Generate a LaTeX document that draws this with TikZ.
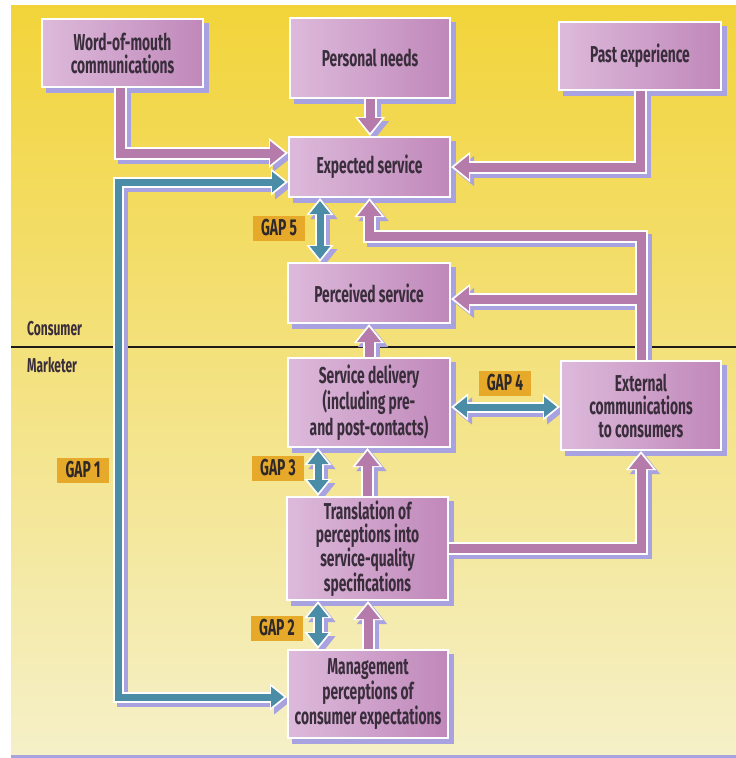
\documentclass[tikz,border=0pt]{standalone}
\usepackage{fontspec}
\setmainfont{Fira Sans}[FakeStretch=0.6]
\usetikzlibrary{arrows.meta,calc}
\definecolor{bgT}{HTML}{F2D43A}
\definecolor{bgM}{HTML}{F1E48C}
\definecolor{bgB}{HTML}{F5F0C8}
\definecolor{shadc}{HTML}{A9A2E0}
\definecolor{purc}{HTML}{B57BAA}
\definecolor{bluc}{HTML}{4B8CA6}
\definecolor{boxL}{HTML}{DDBADB}
\definecolor{boxR}{HTML}{C088BA}
\definecolor{txt}{HTML}{3A2E3C}
\definecolor{gapc}{HTML}{E6A92A}
\definecolor{gtxt}{HTML}{2E2828}
\definecolor{linec}{HTML}{1E1A1A}
\pgfdeclarelayer{bg}\pgfdeclarelayer{shad}\pgfdeclarelayer{arrw}\pgfdeclarelayer{arrc}
\pgfsetlayers{bg,shad,arrw,arrc,main}
\newcommand\bfnt{\fontsize{23bp}{23bp}\selectfont\bfseries}
\newcommand\lfnt{\fontsize{20bp}{22bp}\selectfont\bfseries}
\tikzset{
 box/.style={rectangle, draw=white, line width=2bp, left color=boxL, right color=boxR, text=txt, align=center, inner sep=0pt, font=\bfnt},
 gap/.style={rectangle, fill=gapc, text=gtxt, inner sep=0pt, minimum width=52bp, minimum height=25bp, font=\bfnt},
 lab/.style={text=txt, inner sep=0pt, font=\lfnt},
 pw/.style={draw=white, line width=13bp, -{Triangle[length=19bp,width=29bp]}},
 ps/.style={draw=shadc, line width=13bp, -{Triangle[length=19bp,width=29bp]}, transform canvas={shift={(4bp,-4bp)}}},
 pc/.style={draw=purc, line width=9bp, -{Triangle[length=15bp,width=23bp]}, shorten >=3bp},
 bw/.style={draw=white, line width=11bp, {Triangle[length=17bp,width=26bp]}-{Triangle[length=17bp,width=26bp]}},
 bs/.style={draw=shadc, line width=11bp, {Triangle[length=17bp,width=26bp]}-{Triangle[length=17bp,width=26bp]}, transform canvas={shift={(4bp,-4bp)}}},
 bc/.style={draw=bluc, line width=7bp, {Triangle[length=13bp,width=20bp]}-{Triangle[length=13bp,width=20bp]}, shorten >=3bp, shorten <=3bp}
}
\newcommand\parrow[1]{%
 \begin{pgfonlayer}{shad}\path[ps] #1;\end{pgfonlayer}
 \begin{pgfonlayer}{arrw}\path[pw] #1;\end{pgfonlayer}
 \begin{pgfonlayer}{arrc}\path[pc] #1;\end{pgfonlayer}}
\newcommand\barrow[1]{%
 \begin{pgfonlayer}{shad}\path[bs] #1;\end{pgfonlayer}
 \begin{pgfonlayer}{arrw}\path[bw] #1;\end{pgfonlayer}
 \begin{pgfonlayer}{arrc}\path[bc] #1;\end{pgfonlayer}}
\newcommand\bshadow[1]{\begin{pgfonlayer}{shad}\fill[shadc] ($(#1.north west)+(5bp,-5bp)$) rectangle ($(#1.south east)+(5bp,-5bp)$);\end{pgfonlayer}}
\begin{document}
\begin{tikzpicture}[x=1bp,y=-1bp,line join=miter]
\useasboundingbox (0,0) rectangle (736,758);
\begin{pgfonlayer}{bg}
 \fill[white] (0,0) rectangle (736,758);
 \shade[top color=bgT, middle color=bgM, bottom color=bgB] (11,6) rectangle (736,755);
 \fill[shadc] (11,755) rectangle (736,758);
 \draw[line width=1.8bp, linec] (11,347) -- (736,347);
\end{pgfonlayer}
% boxes
\node[box, minimum width=161bp, minimum height=68bp] (wom) at (122.5,53) {Word-of-mouth\\communications};
\node[box, minimum width=160bp, minimum height=80bp] (pn) at (370,58) {Personal needs};
\node[box, minimum width=162bp, minimum height=68bp] (pe) at (640,56) {Past experience};
\node[box, minimum width=161bp, minimum height=60bp] (exp) at (369.5,167) {Expected service};
\node[box, minimum width=162bp, minimum height=60bp] (per) at (369,293) {Perceived service};
\node[box, minimum width=162bp, minimum height=89bp] (sd) at (369,402.5) {Service delivery\\(including pre-\\and post-contacts)};
\node[box, minimum width=160bp, minimum height=89bp] (ext) at (641,405.5) {External\\communications\\to consumers};
\node[box, minimum width=161bp, minimum height=103bp] (tr) at (367.5,548.5) {Translation of\\perceptions into\\service-quality\\specifications};
\node[box, minimum width=160bp, minimum height=88bp] (mg) at (368,694) {Management\\perceptions of\\consumer expectations};
\foreach \b in {wom,pn,pe,exp,per,sd,ext,tr,mg}{\bshadow{\b}}
% side labels
\node[lab, anchor=base west] (cons) at (27,335) {Consumer};
\node[lab, anchor=base west] (mark) at (27,372) {Marketer};
% purple arrows
\parrow{([xshift=-2bp]wom.south) |- ([yshift=14bp]exp.west)}
\parrow{(pn.south) -- (pn.south |- exp.north)}
\parrow{(pe.south) |- (exp.east)}
\parrow{(ext.north) |- ([yshift=-38bp]exp.south) -- (exp.south)}
\parrow{(ext.north) |- ([yshift=-6bp]per.east)}
\parrow{(sd.north) -- (sd.north |- per.south)}
\parrow{(tr.north) -- (tr.north |- sd.south)}
\parrow{(mg.north) -- (mg.north |- tr.south)}
\parrow{(tr.east) -| (ext.south)}
% blue gap arrows
\coordinate (g1x) at (118,0);
\coordinate (g1a) at ($(exp.west)+(0,-15bp)$);
\coordinate (g1b) at ($(mg.west)+(0,-3bp)$);
\barrow{(g1a) -- (g1a -| g1x) -- (g1b -| g1x) -- (g1b)}
\coordinate (g5x) at (320,0);
\barrow{(exp.south -| g5x) -- (per.north -| g5x)}
\coordinate (g3x) at (318,0);
\barrow{(sd.south -| g3x) -- (tr.north -| g3x)}
\barrow{(tr.south -| g3x) -- (mg.north -| g3x)}
\coordinate (g4y) at (0,407);
\barrow{(sd.east |- g4y) -- (ext.west |- g4y)}
% gap labels
\node[gap] (gap1) at (83,470) {GAP 1};
\node[gap] (gap2) at (277,628) {GAP 2};
\node[gap] (gap3) at (278,468) {GAP 3};
\node[gap] (gap4) at (505,383) {GAP 4};
\node[gap] (gap5) at (279,228) {GAP 5};
\end{tikzpicture}
\end{document}
